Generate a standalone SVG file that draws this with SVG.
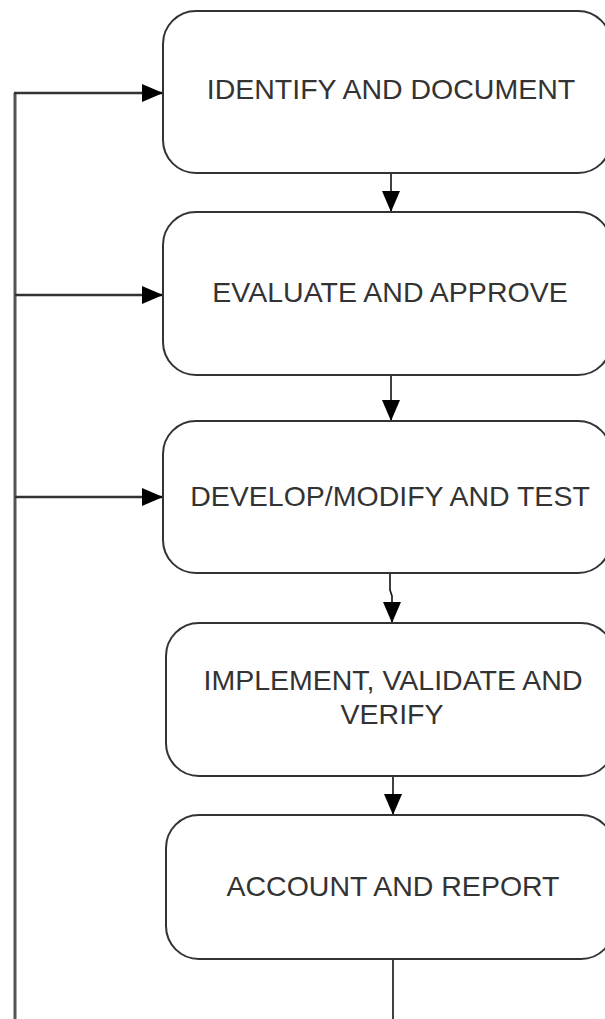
<svg xmlns="http://www.w3.org/2000/svg" width="605" height="1019" viewBox="0 0 605 1019">
<style>
.box{fill:#fff;stroke:#333;stroke-width:2}
.lbl{font-family:"Liberation Sans",Arial,sans-serif;font-size:28.5px;fill:#333;text-anchor:middle}
.fb{fill:none;stroke:#555;stroke-width:3}
.fh{fill:none;stroke:#333;stroke-width:2.5}
.dn{fill:none;stroke:#111;stroke-width:1.6}
</style>
<defs>
<marker id="ah" markerUnits="userSpaceOnUse" markerWidth="21" markerHeight="18" refX="21" refY="9" orient="auto">
<path d="M0,0 L21,9 L0,18 z" fill="#000"/>
</marker>
</defs>
<rect width="605" height="1019" fill="#fff"/>
<g id="connectors">
<path class="fb" d="M15,1019 V93"/>
<path class="fh" d="M14,93 H163" marker-end="url(#ah)"/>
<path class="fh" d="M15,295 H163" marker-end="url(#ah)"/>
<path class="fh" d="M15,497 H163" marker-end="url(#ah)"/>
<path class="dn" d="M391,173 V212" marker-end="url(#ah)"/>
<path class="dn" d="M391,375 V421" marker-end="url(#ah)"/>
<path class="dn" d="M390,573 V590 L392,596 V623" marker-end="url(#ah)"/>
<path class="dn" d="M393,776 V815" marker-end="url(#ah)"/>
<path class="dn" d="M393,959 V1019"/>
</g>
<g id="identify">
<rect class="box" x="163" y="11" width="448" height="162" rx="33" ry="33"/>
<text class="lbl" x="391" y="99">IDENTIFY AND DOCUMENT</text>
</g>
<g id="evaluate">
<rect class="box" x="163" y="212" width="448" height="163" rx="33" ry="33"/>
<text class="lbl" x="390" y="302">EVALUATE AND APPROVE</text>
</g>
<g id="develop">
<rect class="box" x="163" y="421" width="448" height="152" rx="33" ry="33"/>
<text class="lbl" x="390" y="506">DEVELOP/MODIFY AND TEST</text>
</g>
<g id="implement">
<rect class="box" x="166" y="623" width="448" height="153" rx="33" ry="33"/>
<text class="lbl" x="393" y="690">IMPLEMENT, VALIDATE AND</text>
<text class="lbl" x="392" y="724">VERIFY</text>
</g>
<g id="account">
<rect class="box" x="166" y="815" width="448" height="144" rx="33" ry="33"/>
<text class="lbl" x="393" y="896">ACCOUNT AND REPORT</text>
</g>
</svg>
